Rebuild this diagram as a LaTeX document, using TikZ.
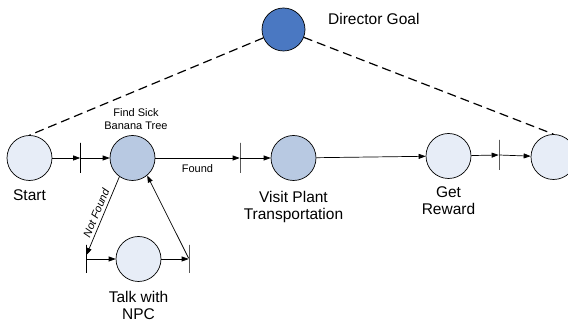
\documentclass[tikz,border=0pt]{standalone}
\usepackage{fontspec}
\setmainfont{Liberation Sans}
\usetikzlibrary{arrows.meta,calc}
\definecolor{lightfill}{HTML}{E7EDF7}
\definecolor{midfill}{HTML}{B8C9E2}
\definecolor{darkfill}{HTML}{4A78C2}
\begin{document}
\begin{tikzpicture}[x=1pt,y=-1pt,
  state/.style={circle,draw=black,line width=0.7pt,minimum size=45pt,inner sep=0pt},
  bar/.style={draw=black,line width=0.7pt,minimum width=0pt,minimum height=30pt,inner sep=0pt},
  arr/.style={-{Triangle[length=7pt,width=5pt]},line width=0.7pt},
  lbl/.style={font=\fontsize{15.5}{17}\selectfont,align=center,inner sep=0pt},
  small/.style={font=\fontsize{11}{13}\selectfont,align=center,inner sep=0pt},
  dashline/.style={dash pattern=on 9pt off 5pt,line width=1.2pt}
]
\useasboundingbox (0,0) rectangle (568,328);
\clip (0,0) rectangle (568,328);

% circles
\node[state,fill=darkfill,minimum size=43pt] (dir) at (283.5,29.5) {};
\node[state,fill=lightfill] (start) at (29.5,158) {};
\node[state,fill=midfill] (find) at (132.5,158) {};
\node[state,fill=midfill] (visit) at (293.5,158) {};
\node[state,fill=lightfill] (get) at (448.5,156) {};
\node[state,fill=lightfill] (end) at (553.5,157) {};
\node[state,fill=lightfill] (npc) at (138.5,259) {};

% bars
\node[bar] (b1) at (80.5,158) {};
\node[bar] (b2) at (240,158) {};
\node[bar] (b3) at (499,155) {};
\node[bar,minimum height=28pt] (nb1) at (86.5,259) {};
\node[bar,minimum height=28pt] (nb2) at (189,259) {};

% dashed links
\draw[dashline] (dir) -- (start.north);
\draw[dashline] (dir) -- (end.north);

% arrows
\draw[arr] (start) -- (b1);
\draw[arr] (b1) -- (find);
\draw[arr] (find) -- node[small,below=6pt] {Found} (b2);
\draw[arr] (b2) -- (visit);
\draw[arr] (visit) -- (get);
\draw[arr] (get) -- (b3);
\draw[arr] (b3) -- (end);
\draw[arr] (find.235) -- node[small,sloped,above=3pt,font=\fontsize{11}{13}\selectfont\itshape] {Not Found} ($(nb1.center)+(0,-4)$);
\draw[arr] (nb1) -- (npc);
\draw[arr] (npc) -- (nb2);
\draw[arr] (nb2) -- (find.310);

% labels
\node[lbl,anchor=base west] (tdir) at (328,25) {Director Goal};
\node[lbl,anchor=base] (tstart) at (29.5,201) {Start};
\node[small] (tfind) at (136,119.5) {Find Sick\\Banana Tree};
\node[lbl] (tvisit) at (293.5,206.5) {Visit Plant\\Transportation};
\node[lbl] (tget) at (448.5,200.9) {Get\\Reward};
\node[lbl] (tnpc) at (138.5,305.9) {Talk with\\NPC};
\end{tikzpicture}
\end{document}
